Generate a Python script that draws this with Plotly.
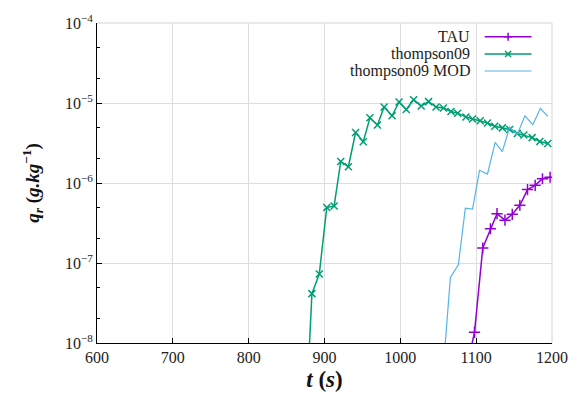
import plotly.graph_objects as go

# ---- data ----
t_thompson = [873.7, 883.4, 893.1, 903.0, 912.7, 921.4, 931.5, 941.0, 951.1, 959.9, 969.8,
              978.6, 989.1, 998.3, 1007.8, 1017.5, 1027.5, 1037.2, 1047.1, 1056.8,
              1066.8, 1075.6, 1086.5, 1095.2, 1105.3, 1114.9, 1124.5, 1134.5, 1144.1,
              1154.2, 1162.9, 1173.8, 1183.9, 1194.4]
q_thompson = [5e-10, 4.14e-8, 7.28e-8, 4.94e-7, 5.17e-7, 1.86e-6, 1.60e-6, 4.28e-6, 3.27e-6,
              6.53e-6, 5.32e-6, 8.91e-6, 6.92e-6, 1.03e-5, 8.28e-6, 1.10e-5, 9.16e-6,
              1.04e-5, 8.91e-6, 8.67e-6, 7.83e-6, 7.46e-6, 6.67e-6, 6.30e-6, 6.00e-6,
              5.62e-6, 5.13e-6, 4.89e-6, 4.66e-6, 4.16e-6, 3.98e-6, 3.69e-6, 3.30e-6,
              3.11e-6]

t_mod = [1056.8, 1066.0, 1076.5, 1085.7, 1095.2, 1104.4, 1114.9, 1125.0, 1134.5, 1144.1,
         1154.2, 1164.3, 1174.7, 1184.7, 1194.4]
q_mod = [5e-9, 6.6e-8, 9.5e-8, 4.84e-7, 4.71e-7, 1.44e-6, 1.29e-6, 3.21e-6, 2.47e-6,
         4.99e-6, 4.05e-6, 6.92e-6, 5.36e-6, 8.59e-6, 6.79e-6]

t_tau = [1087.8, 1097.8, 1108.7, 1118.8, 1127.5, 1138.0, 1147.6, 1157.6, 1167.7, 1177.8,
         1187.4, 1197.5]
q_tau = [5e-9, 1.36e-8, 1.54e-7, 2.68e-7, 4.13e-7, 3.43e-7, 4.06e-7, 5.27e-7, 8.28e-7,
         9.35e-7, 1.13e-6, 1.18e-6]

x_ticks = [600, 700, 800, 900, 1000, 1100, 1200]
y_ticks = [1e-8, 1e-7, 1e-6, 1e-5, 1e-4]
y_ticktext = ["10<sup>−8</sup>", "10<sup>−7</sup>", "10<sup>−6</sup>", "10<sup>−5</sup>",
              "10<sup>−4</sup>"]

series_names = ["TAU", "thompson09", "thompson09 MOD"]
colors = ["#9400D3", "#009E73", "#56B4E9"]

FONT = "Liberation Serif"

fig = go.Figure()
fig.add_trace(go.Scatter(x=t_tau, y=q_tau, mode="lines+markers", name=series_names[0],
                         line=dict(color=colors[0], width=1.5),
                         marker=dict(symbol="cross-thin", size=8,
                                     line=dict(color=colors[0], width=1.5))))
fig.add_trace(go.Scatter(x=t_thompson, y=q_thompson, mode="lines+markers", name=series_names[1],
                         line=dict(color=colors[1], width=1.5),
                         marker=dict(symbol="x-thin", size=7,
                                     line=dict(color=colors[1], width=1.5))))
fig.add_trace(go.Scatter(x=t_mod, y=q_mod, mode="lines", name=series_names[2],
                         line=dict(color=colors[2], width=1.2)))

# ---- custom gnuplot-like legend (text right-aligned, sample on the right) ----
leg_y = [0.957, 0.903, 0.850]
x_text = 0.823
x_l0, x_l1 = 0.852, 0.955
x_mid = (x_l0 + x_l1) / 2
shapes = []
annotations = []
for i, (nm, c, yy) in enumerate(zip(series_names, colors, leg_y)):
    annotations.append(dict(x=x_text, y=yy, xref="paper", yref="paper", text=nm,
                            showarrow=False, xanchor="right", yanchor="middle",
                            borderpad=0,
                            font=dict(family=FONT, size=16, color="#222")))
    shapes.append(dict(type="line", xref="paper", yref="paper", x0=x_l0, x1=x_l1,
                       y0=yy, y1=yy, line=dict(color=c, width=1.5 if i < 2 else 1.2)))
# legend marker glyphs
plus = [(-4, 0, 4, 0), (0, -4, 0, 4)]
cross = [(-3, -3, 3, 3), (-3, 3, 3, -3)]
for segs, c, yy in [(plus, colors[0], leg_y[0]), (cross, colors[1], leg_y[1])]:
    for (a0, b0, a1, b1) in segs:
        shapes.append(dict(type="line", xref="paper", yref="paper",
                           xsizemode="pixel", ysizemode="pixel",
                           xanchor=x_mid, yanchor=yy, x0=a0, x1=a1, y0=b0, y1=b1,
                           line=dict(color=c, width=1.5)))

# top / right border in light grey
shapes.append(dict(type="line", xref="paper", yref="paper", x0=0, x1=1, y0=1, y1=1,
                   line=dict(color="#d4d4d4", width=1), layer="below"))
shapes.append(dict(type="line", xref="paper", yref="paper", x0=1, x1=1, y0=0, y1=1,
                   line=dict(color="#d4d4d4", width=1), layer="below"))

fig.update_layout(
    width=580, height=404,
    margin=dict(l=97, r=25, t=16, b=61),
    paper_bgcolor="white", plot_bgcolor="white",
    showlegend=False,
    font=dict(family=FONT, size=16, color="#222"),
    shapes=shapes, annotations=annotations,
)
fig.update_xaxes(
    range=[600, 1200], tickvals=x_ticks,
    showline=True, linecolor="black", linewidth=1,
    ticks="inside", ticklen=5, tickcolor="black",
    showgrid=True, gridcolor="#dddddd", gridwidth=1,
    zeroline=False,
    tickfont=dict(family=FONT, size=16, color="#222"),
    title=dict(text="<b><i>t</i> (<i>s</i>)</b>", font=dict(family=FONT, size=23, color="#111"),
               standoff=5),
)
fig.update_yaxes(
    type="log", range=[-8, -4], tickvals=y_ticks, ticktext=y_ticktext,
    showline=True, linecolor="black", linewidth=1,
    ticks="inside", ticklen=5, tickcolor="black",
    minor=dict(ticks="inside", ticklen=3, tickcolor="black", dtick="D2", showgrid=False),
    showgrid=True, gridcolor="#dddddd", gridwidth=1,
    zeroline=False,
    tickfont=dict(family=FONT, size=16, color="#222"),
    title=dict(text="<b><i>q</i><sub><i>r</i></sub> (<i>g.kg</i><sup>−1</sup>)</b>",
               font=dict(family=FONT, size=19, color="#111"), standoff=20),
)

fig.write_html("out.html")
